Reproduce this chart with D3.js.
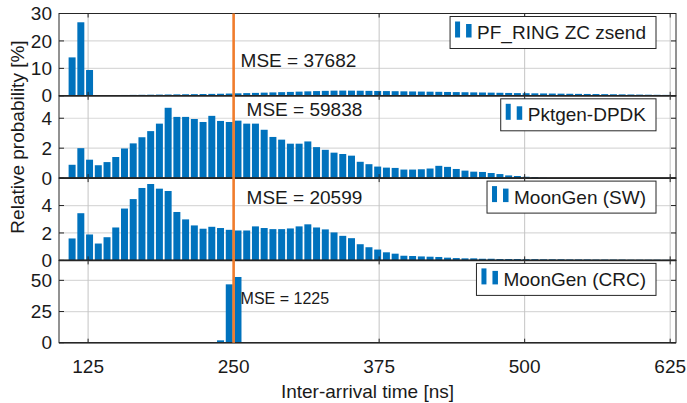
<!DOCTYPE html>
<html>
<head>
<meta charset="utf-8">
<script src="https://cdn.jsdelivr.net/npm/d3@7"></script>
<style>
  body { margin: 0; background: #fff; }
  text { font-family: "Liberation Sans", Arial, Helvetica, sans-serif; fill: #1a1a1a; }
</style>
</head>
<body>
<script>
// histogram bins: 7.5 ns wide, first bin starts at 107.5 ns
const binStart = 107.5;
const binWidth = 7.5;

const seriesNames = ["PF_RING ZC zsend", "Pktgen-DPDK", "MoonGen (SW)", "MoonGen (CRC)"];
const mseLabels = ["MSE = 37682", "MSE = 59838", "MSE = 20599", "MSE = 1225"];
const targetRate = 250; // ns

const pfring = [
  14.0, 26.8, 9.4, 0, 0, 0.1,
  0.30, 0.33, 0.36, 0.40, 0.44, 0.48, 0.52, 0.56, 0.60, 0.65, 0.70, 0.75, 0.82,
  0.90, 0.98, 1.06, 1.15, 1.24, 1.33, 1.42, 1.52, 1.62, 1.72, 1.80, 1.88,
  1.90, 1.88, 1.85, 1.80, 1.76, 1.72, 1.68, 1.63, 1.58, 1.54, 1.50, 1.45,
  1.40, 1.35, 1.30, 1.25, 1.20, 1.15, 1.10, 1.04, 0.98,
  0.94, 0.90, 0.86, 0.82, 0.78, 0.74, 0.70, 0.67, 0.64, 0.60,
  0.56, 0.52, 0.48, 0.44, 0.40, 0.36, 0.33
];
const pktgen = [
  0.89, 2.00, 1.23, 0.86, 1.07, 1.41, 1.98, 2.32, 2.73, 3.14,
  3.64, 4.70, 4.09, 4.09, 3.95, 3.75, 4.16, 3.82, 3.75, 3.84,
  3.64, 3.64, 3.23, 2.75, 2.57, 2.30, 2.30, 2.45, 2.07, 1.89,
  1.70, 1.61, 1.50, 1.09, 0.93,
  0.77, 0.70, 0.68, 0.57, 0.57, 0.59, 0.64, 0.82, 0.75, 0.61,
  0.50, 0.43, 0.41, 0.34, 0.27, 0.18, 0.14, 0.09, 0.07, 0.03,
  0, 0, 0, 0, 0, 0, 0, 0, 0, 0, 0, 0, 0, 0
];
const moongenSW = [
  1.60, 3.44, 1.89, 1.23, 1.69, 2.40, 3.78, 4.47, 5.28, 5.57,
  5.23, 5.06, 3.53, 2.99, 2.55, 2.31, 2.45, 2.36, 2.23, 2.18,
  2.18, 2.48, 2.36, 2.28, 2.28, 2.33, 2.48, 2.63, 2.40, 2.26,
  2.04, 1.79, 1.62, 1.18, 0.96,
  0.79, 0.59, 0.49, 0.34, 0.32, 0.29, 0.27, 0.25, 0.20, 0.17,
  0.15, 0.15, 0.12, 0.12,
  0.10, 0.10, 0.10, 0.09, 0.09, 0.08, 0.08, 0.08, 0.07, 0.07,
  0.07, 0.06, 0.06, 0.06, 0.06, 0.05, 0.05, 0.05, 0.05, 0.04
];
const moongenCRC = [
  0, 0, 0, 0, 0, 0, 0, 0, 0, 0, 0, 0, 0, 0, 0, 0, 0,
  1.9, 46.8, 52.7, 0.5,
  0, 0, 0, 0, 0, 0, 0, 0, 0, 0, 0, 0, 0, 0, 0, 0, 0, 0, 0, 0,
  0, 0, 0, 0, 0, 0, 0, 0, 0, 0, 0, 0, 0, 0, 0, 0, 0, 0, 0, 0,
  0, 0, 0, 0, 0, 0, 0, 0
];

const yMax = [30, 5.5, 6, 66];
const yTicks = [[0, 10, 20, 30], [0, 2, 4], [0, 2, 4], [0, 25, 50]];
const xTicks = [125, 250, 375, 500, 625];

const series = [pfring, pktgen, moongenSW, moongenCRC];

// layout
const W = 687, H = 403;
const plotLeft = 59, plotRight = 676, plotTop = 13.5, panelH = 82.3;
// MSE label placement: px right of the 250 ns line, baseline px below panel top, font size
const mseLayout = [[7, 53, 19], [13, 20.5, 19], [13, 25.8, 19], [7, 44, 16]];

const blue = "#0072BD";
const orange = "#F07C2C";
const axisColor = "#262626";

const svg = d3.select("body").append("svg")
  .attr("width", W)
  .attr("height", H);

const x = d3.scaleLinear().domain([100, 630]).range([plotLeft, plotRight]);

series.forEach((vals, p) => {
  const y0 = plotTop + p * panelH;
  const y = d3.scaleLinear().domain([0, yMax[p]]).range([y0 + panelH, y0]);
  const g = svg.append("g");

  // grid
  g.selectAll(".hgrid").data(yTicks[p].filter(t => t > 0 && t < yMax[p]))
    .enter().append("line")
    .attr("x1", plotLeft).attr("x2", plotRight)
    .attr("y1", d => y(d)).attr("y2", d => y(d))
    .attr("stroke", "#d9d9d9").attr("stroke-width", 1.2);
  g.selectAll(".vgrid").data(xTicks)
    .enter().append("line")
    .attr("x1", d => x(d)).attr("x2", d => x(d))
    .attr("y1", y0).attr("y2", y0 + panelH)
    .attr("stroke", "#c4c4c4").attr("stroke-width", 1);

  // bars
  g.selectAll(".bar").data(vals)
    .enter().append("rect")
    .attr("x", (d, i) => x(binStart + i * binWidth + binWidth * 0.1))
    .attr("width", x(100 + binWidth * 0.8) - x(100))
    .attr("y", d => y(d))
    .attr("height", d => y(0) - y(d))
    .attr("fill", blue);

  // box
  g.append("rect")
    .attr("x", plotLeft).attr("y", y0)
    .attr("width", plotRight - plotLeft).attr("height", panelH)
    .attr("fill", "none").attr("stroke", axisColor).attr("stroke-width", 1);
  g.append("line")
    .attr("x1", plotLeft).attr("x2", plotRight)
    .attr("y1", y(0)).attr("y2", y(0))
    .attr("stroke", axisColor).attr("stroke-width", 1.6);

  // y ticks inside on both sides
  yTicks[p].forEach(t => {
    g.append("line").attr("x1", plotLeft).attr("x2", plotLeft + 5)
      .attr("y1", y(t)).attr("y2", y(t)).attr("stroke", axisColor);
    g.append("line").attr("x1", plotRight - 5).attr("x2", plotRight)
      .attr("y1", y(t)).attr("y2", y(t)).attr("stroke", axisColor);
  });
  xTicks.forEach(t => {
    g.append("line").attr("x1", x(t)).attr("x2", x(t))
      .attr("y1", y0 + panelH).attr("y2", y0 + panelH - 4).attr("stroke", axisColor);
    g.append("line").attr("x1", x(t)).attr("x2", x(t))
      .attr("y1", y0).attr("y2", y0 + 4).attr("stroke", axisColor);
  });

  // y tick labels
  g.selectAll(".ylab").data(yTicks[p])
    .enter().append("text")
    .attr("x", plotLeft - 7)
    .attr("y", d => y(d))
    .attr("dy", "0.35em")
    .attr("text-anchor", "end")
    .attr("font-size", "19px")
    .text(d => d);

  // legend
  const lg = g.append("g");
  const legRight = 656, legTop = y0 + 3, legH = 32;
  const lt = lg.append("text")
    .attr("y", legTop + 22.5)
    .attr("font-size", "19px")
    .text(seriesNames[p]);
  const tw = lt.node().getComputedTextLength();
  const legLeft = legRight - tw - 37;
  lt.attr("x", legLeft + 27);
  lg.insert("rect", "text")
    .attr("x", legLeft).attr("y", legTop)
    .attr("width", legRight - legLeft).attr("height", legH)
    .attr("fill", "#fff").attr("stroke", axisColor).attr("stroke-width", 1);
  lg.append("rect").attr("x", legLeft + 5).attr("y", legTop + 5)
    .attr("width", 5).attr("height", 16).attr("fill", blue);
  lg.append("rect").attr("x", legLeft + 16).attr("y", legTop + 7.5)
    .attr("width", 5.5).attr("height", 13.5).attr("fill", blue);

  // MSE annotation
  g.append("text")
    .attr("x", x(targetRate) + mseLayout[p][0])
    .attr("y", y0 + mseLayout[p][1])
    .attr("font-size", mseLayout[p][2] + "px")
    .text(mseLabels[p]);
});

const plotBottom = plotTop + 4 * panelH;

// target line at 250 ns
svg.append("line")
  .attr("x1", x(targetRate)).attr("x2", x(targetRate))
  .attr("y1", plotTop).attr("y2", plotBottom)
  .attr("stroke", orange).attr("stroke-width", 2.6);

// x axis labels
svg.selectAll(".xlab").data(xTicks)
  .enter().append("text")
  .attr("x", d => x(d))
  .attr("y", plotBottom + 30)
  .attr("text-anchor", "middle")
  .attr("font-size", "19px")
  .text(d => d);

svg.append("text")
  .attr("x", (plotLeft + plotRight) / 2)
  .attr("y", 398)
  .attr("text-anchor", "middle")
  .attr("font-size", "19px")
  .text("Inter-arrival time [ns]");

svg.append("text")
  .attr("transform", "translate(24," + 137 + ") rotate(-90)")
  .attr("text-anchor", "middle")
  .attr("font-size", "19px")
  .text("Relative probability [%]");
</script>
</body>
</html>
